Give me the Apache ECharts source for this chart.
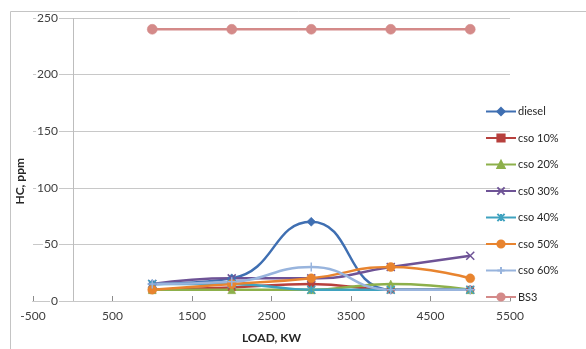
<!DOCTYPE html>
<html>
<head>
<meta charset="utf-8">
<script src="https://cdn.jsdelivr.net/npm/echarts@6/dist/echarts.min.js"></script>
<style>
  html, body { margin: 0; padding: 0; background: #fff; }
  #chart { width: 586px; height: 349px; }
</style>
</head>
<body>
<div id="chart"></div>
<script>
// Engine load (kW) and hydrocarbon emissions (ppm) per fuel blend
const loads = [1000, 2000, 3000, 4000, 5000];
const diesel = [15, 20, 70, 10, 10];
const cso10 = [10, 12, 15, 10, 10];
const cso20 = [10, 10, 10, 15, 10];
const cso30 = [15, 20, 20, 30, 40];
const cso40 = [15, 15, 10, 10, 10];
const cso50 = [10, 15, 20, 30, 20];
const cso60 = [15, 17, 30, 10, 10];
const bs3 = [240, 240, 240, 240, 240];
const seriesNames = ['diesel', 'cso 10%', 'cso 20%', 'cs0 30%', 'cso 40%', 'cso 50%', 'cso 60%', 'BS3'];
const xTicks = { min: -500, max: 5500, step: 1000 };
const yTicks = { min: 0, max: 250, step: 50 };

const FONT = 'Lato, "Open Sans", sans-serif';
const pair = v => loads.map((x, i) => [x, v[i]]);

// Stroked marker outlines for the cross-style symbols
const SYM_X = 'path://M0,0L10,10M10,0L0,10';
const SYM_STAR = 'path://M5,0L5,10M0,0L10,10M10,0L0,10';
const SYM_PLUS = 'path://M5,0L5,10M0,5L10,5';

function lineSeries(name, values, color, symbol, size, stroked) {
  return {
    name: name,
    type: 'line',
    data: pair(values),
    smooth: 0.5,
    symbol: symbol,
    symbolSize: size,
    showSymbol: true,
    color: color,
    lineStyle: { color: color, width: 2.5 },
    itemStyle: stroked
      ? { color: 'rgba(0,0,0,0)', borderColor: color, borderWidth: 1.5 }
      : { color: color, borderColor: color, borderWidth: 0.5 },
    emphasis: { disabled: true }
  };
}

const series = [
  lineSeries(seriesNames[0], diesel, '#3F6FB2', 'diamond', 9, false),
  lineSeries(seriesNames[1], cso10, '#B7403D', 'rect', 7, false),
  lineSeries(seriesNames[2], cso20, '#8DB04B', 'triangle', 8, false),
  lineSeries(seriesNames[3], cso30, '#6E5396', SYM_X, 8, true),
  lineSeries(seriesNames[4], cso40, '#3FA2BF', SYM_STAR, 8, true),
  lineSeries(seriesNames[5], cso50, '#E8842F', 'circle', 9, false),
  lineSeries(seriesNames[6], cso60, '#98B4DD', SYM_PLUS, 9, true),
  lineSeries(seriesNames[7], bs3, '#D48A89', 'circle', 10, false)
];

// Vertical axis line where load = 0
series[0].markLine = {
  silent: true,
  symbol: 'none',
  label: { show: false },
  lineStyle: { color: '#BDBDBD', type: 'solid', width: 1 },
  data: [{ xAxis: 0 }]
};

const chart = echarts.init(document.getElementById('chart'), null, { renderer: 'canvas' });
chart.setOption({
  animation: false,
  backgroundColor: '#fff',
  textStyle: { fontFamily: FONT },
  grid: { left: 33, right: 76, top: 18, bottom: 45, containLabel: false },
  graphic: [
    {
      type: 'rect',
      shape: { x: 10.5, y: 11.5, width: 700, height: 500 },
      style: { fill: 'none', stroke: '#C4C4C4', lineWidth: 1 },
      silent: true, z: -10
    },
    {
      type: 'text',
      left: 14, top: 158,
      rotation: Math.PI / 2,
      style: { text: 'HC, ppm', font: 'bold 12px ' + FONT, fill: '#262626' },
      silent: true
    }
  ],
  legend: {
    orient: 'vertical',
    left: 480,
    top: 100,
    itemWidth: 30,
    itemHeight: 9,
    itemGap: 13.5,
    data: seriesNames,
    textStyle: { fontFamily: FONT, fontSize: 11, color: '#262626', lineHeight: 13, padding: [0, 0, 0, -3] },
    selectedMode: false
  },
  xAxis: {
    type: 'value',
    min: xTicks.min,
    max: xTicks.max,
    interval: xTicks.step,
    name: 'LOAD, KW',
    nameLocation: 'middle',
    nameGap: 31,
    nameTextStyle: { fontFamily: FONT, fontSize: 12, fontWeight: 'bold', color: '#262626' },
    axisLine: { onZero: false, lineStyle: { color: '#8C8C8C', width: 1 } },
    axisTick: { show: true, inside: true, length: 5, lineStyle: { color: '#8C8C8C' } },
    axisLabel: { margin: 9, fontFamily: FONT, fontSize: 12, color: '#404040', formatter: v => String(v) },
    splitLine: { show: false }
  },
  yAxis: {
    type: 'value',
    min: yTicks.min,
    max: yTicks.max,
    interval: yTicks.step,
    z: 3,
    axisLine: { show: false },
    axisTick: { show: false },
    axisLabel: {
      inside: true,
      align: 'right',
      margin: 26,
      fontFamily: FONT,
      fontSize: 12,
      color: '#404040',
      backgroundColor: '#fff',
      padding: [0, 1, 0, 1]
    },
    splitLine: { show: true, lineStyle: { color: '#C8C8C8', width: 1 } }
  },
  series: series
});
</script>
</body>
</html>
